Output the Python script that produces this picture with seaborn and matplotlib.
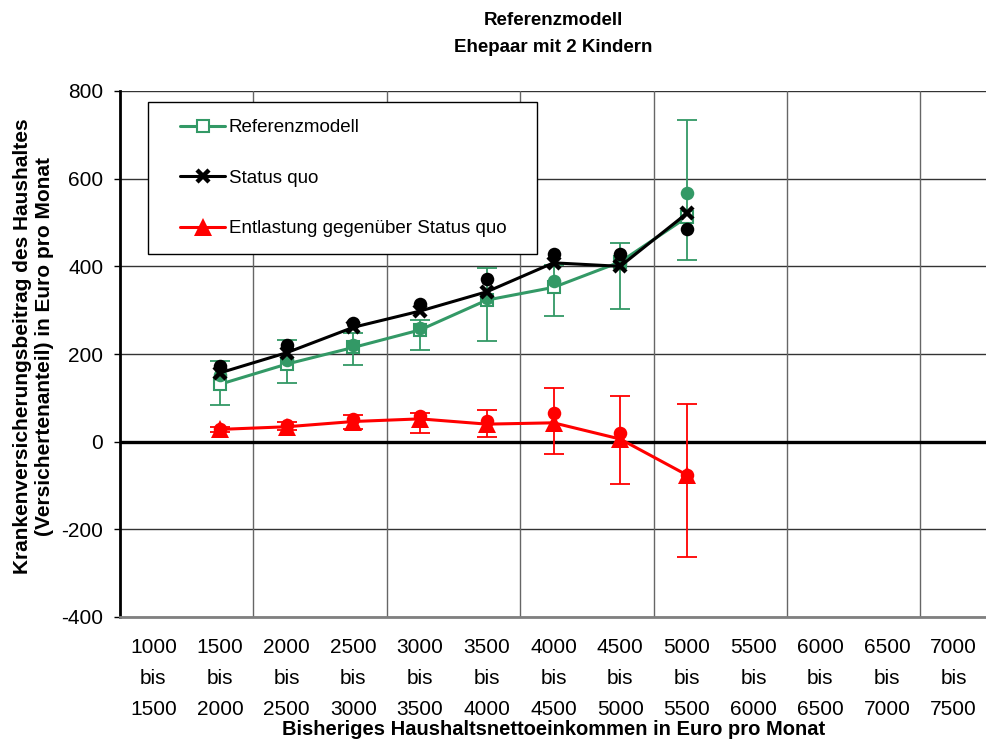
import numpy as np
import matplotlib
matplotlib.use("Agg")
import matplotlib.pyplot as plt
from matplotlib.patches import Rectangle
import seaborn as sns

# income bands on the x axis
categories = ["1000\nbis\n1500", "1500\nbis\n2000", "2000\nbis\n2500", "2500\nbis\n3000",
              "3000\nbis\n3500", "3500\nbis\n4000", "4000\nbis\n4500", "4500\nbis\n5000",
              "5000\nbis\n5500", "5500\nbis\n6000", "6000\nbis\n6500", "6500\nbis\n7000",
              "7000\nbis\n7500"]
data_bands = categories[1:9]

# Referenzmodell
ref_line = [131, 177, 215, 255, 323, 352, 410, 512]
ref_mean = [152, 186, 220, 260, 327, 366, 408, 568]
ref_low = [84, 134, 174, 210, 229, 286, 303, 415]
ref_high = [184, 231, 248, 278, 396, 402, 453, 734]

# Status quo
sq_line = [157, 203, 261, 298, 342, 408, 400, 521]
sq_mean = [173, 221, 271, 313, 371, 428, 428, 486]

# Entlastung gegenüber Status quo
ent_line = [28, 34, 46, 52, 40, 43, 6, -76]
ent_mean = [30, 38, 52, 58, 47, 65, 19, -76]
ent_low = [22, 26, 30, 20, 11, -28, -97, -263]
ent_high = [34, 46, 61, 66, 72, 122, 104, 86]

green = "#339966"
red = "#ff0000"
black = "#000000"

sns.set_style("white")
plt.rcParams["font.family"] = ["Liberation Sans", "DejaVu Sans"]
plt.rcParams["axes.unicode_minus"] = False
plt.rcParams["text.color"] = "black"
plt.rcParams["axes.labelcolor"] = "black"
plt.rcParams["xtick.color"] = "black"
plt.rcParams["ytick.color"] = "black"

x = np.array([categories.index(b) for b in data_bands])

fig = plt.figure(figsize=(9.87, 7.43), dpi=100)
ax = fig.add_axes([120 / 987, 1 - 617 / 743, 1 - 120 / 987, (617 - 91) / 743])

# grid
for v in range(-400, 801, 200):
    ax.axhline(v, color="#333333", lw=1.0, zorder=0)
for b in np.arange(1.5, 12, 2):
    ax.axvline(b, color="#666666", lw=1.0, zorder=0)
ax.axhline(0, color="black", lw=2.4, zorder=1)

def errbars(lo, hi, col):
    lo = np.array(lo, float)
    hi = np.array(hi, float)
    ax.errorbar(x, (lo + hi) / 2, yerr=(hi - lo) / 2, fmt="none", ecolor=col,
                elinewidth=1.3, capsize=7, capthick=1.3, zorder=2)

errbars(ref_low, ref_high, green)
errbars(ent_low, ent_high, red)

# lines with markers
sns.lineplot(x=x, y=ref_line, ax=ax, color=green, lw=2.2, marker="s", markersize=8,
             markerfacecolor="white", markeredgecolor=green, markeredgewidth=1.5,
             label="Referenzmodell", zorder=3)
sns.scatterplot(x=x, y=ref_mean, ax=ax, color=green, s=95, linewidth=0, zorder=4)

sns.scatterplot(x=x, y=sq_mean, ax=ax, color=black, s=95, linewidth=0, zorder=5)
sns.lineplot(x=x, y=sq_line, ax=ax, color=black, lw=2.2, marker="x", markersize=9,
             markeredgewidth=3.2, markeredgecolor=black, label="Status quo", zorder=5)

sns.scatterplot(x=x, y=ent_mean, ax=ax, color=red, s=95, linewidth=0, zorder=5)
sns.lineplot(x=x, y=ent_line, ax=ax, color=red, lw=2.2, marker="^", markersize=13,
             markeredgewidth=0, markerfacecolor=red, label="Entlastung gegenüber Status quo",
             zorder=6)

ax.set_xlim(-0.5, 12.5)
ax.set_ylim(-400, 800)
ax.set_yticks(range(-400, 801, 200))
ax.set_xticks(range(len(categories)))
ax.set_xticklabels(categories, fontsize=15, linespacing=1.8)
ax.tick_params(axis="x", length=0, pad=15)
ax.tick_params(axis="y", length=4, width=1, color="black", labelsize=15, pad=8, left=True)

for s in ["top", "right"]:
    ax.spines[s].set_visible(False)
ax.spines["left"].set_color("black")
ax.spines["left"].set_linewidth(2)
ax.spines["bottom"].set_color("#808080")
ax.spines["bottom"].set_linewidth(2)

ax.set_xlabel("Bisheriges Haushaltsnettoeinkommen in Euro pro Monat",
              fontsize=14.5, fontweight="bold", labelpad=1)
ax.set_ylabel("Krankenversicherungsbeitrag des Haushaltes\n(Versichertenanteil) in Euro pro Monat",
              fontsize=15, fontweight="bold")
ax.yaxis.set_label_coords(-66 / 867, 0.515)
ax.set_title("Referenzmodell\nEhepaar mit 2 Kindern", fontsize=13.5, fontweight="bold",
             linespacing=1.8, pad=28)

# legend box drawn separately so the inner padding can match
ax.add_patch(Rectangle((28 / 867, (617 - 254) / 526), 389 / 867, 152 / 526,
                       transform=ax.transAxes, facecolor="white", edgecolor="black",
                       lw=1, zorder=9))
handles, labels = ax.get_legend_handles_labels()
leg = ax.legend(handles, labels, loc="upper left", bbox_to_anchor=(60 / 867, (617 - 119) / 526),
                borderaxespad=0, borderpad=0, fontsize=13.5, frameon=False,
                labelspacing=1.78, handlelength=2.4, handletextpad=0.2)
leg.set_zorder(10)

fig.savefig("out.png", dpi=100)
